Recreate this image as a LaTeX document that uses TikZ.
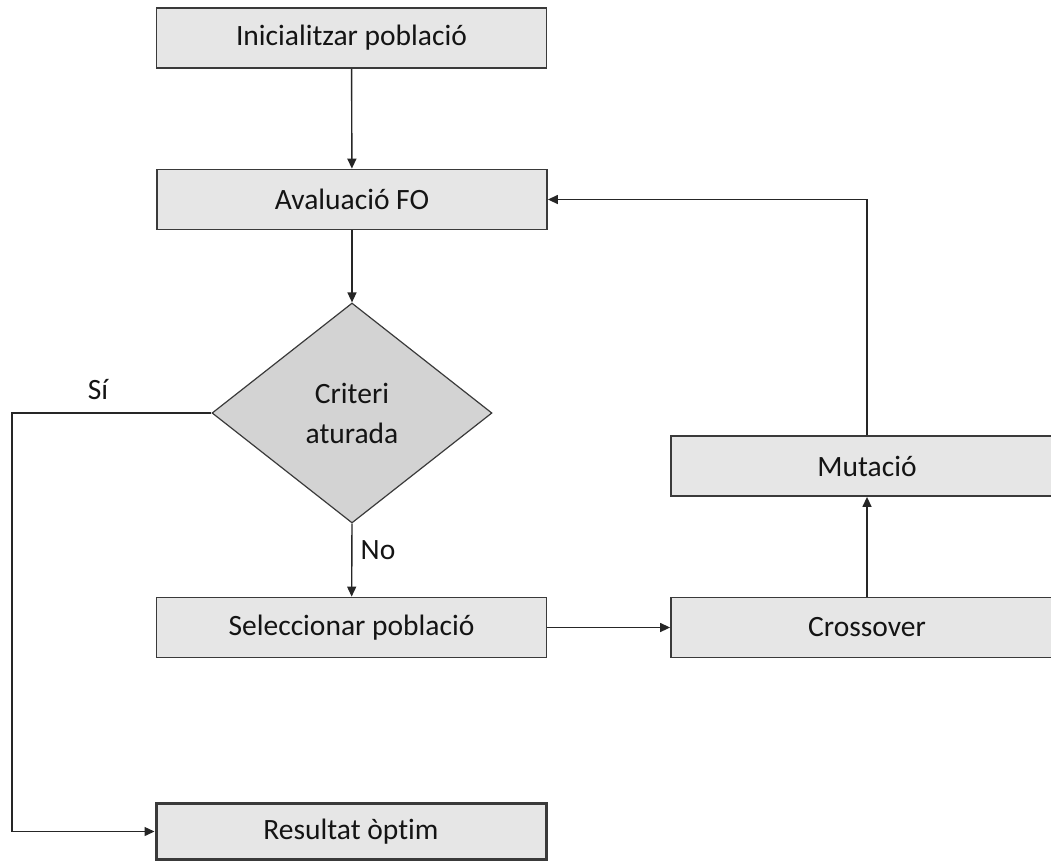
\documentclass[tikz,border=0pt]{standalone}
\usepackage{fontspec}
\setmainfont[Ligatures={NoCommon}]{Carlito}
\usetikzlibrary{shapes.geometric,arrows.meta}
\definecolor{boxfill}{HTML}{E6E6E6}
\definecolor{diafill}{HTML}{D3D3D3}
\definecolor{edge}{HTML}{3A3A3A}
\definecolor{txt}{HTML}{141414}
\begin{document}
\begin{tikzpicture}[x=1pt,y=-1pt,
  every node/.style={font=\fontsize{29.5}{40}\selectfont, text=txt},
  stepbox/.style={draw=edge, fill=boxfill, line width=1.8pt, rectangle, minimum width=390pt, minimum height=60pt, inner sep=0pt},
  decision/.style={draw=edge, fill=diafill, line width=1.2pt, diamond, minimum width=280pt, minimum height=220pt, inner sep=0pt, align=center},
  conn/.style={draw=black!85, line width=1.4pt, -{Triangle[length=10pt,width=9pt]}},
  lbl/.style={inner sep=0pt}]
\useasboundingbox (0,0) rectangle (1051,863);
\clip (0,0) rectangle (1051,863);
\node[stepbox] (init) at (351.5,38) {Inicialitzar població};
\node[stepbox] (aval) at (352,199.5) {Avaluació FO};
\node[decision] (crit) at (352,413) {Criteri\\aturada};
\node[stepbox] (sel) at (351.5,627.5) {Seleccionar població};
\node[stepbox, minimum width=392pt] (cross) at (867,627.5) {Crossover};
\node[stepbox, minimum width=392pt] (mut) at (867,466) {Mutació};
\node[stepbox, line width=3pt, minimum width=390pt, minimum height=56pt] (res) at (351,831.5) {Resultat òptim};
\coordinate (corner) at (12,413);
\node[lbl] (si) at (98,390) {Sí};
\node[lbl] (no) at (378,550) {No};
\draw[conn] (init) -- (aval);
\draw[conn] (aval) -- (crit.north);
\draw[conn] (crit.south) -- (sel);
\draw[conn] (sel) -- (cross);
\draw[conn] (cross) -- (mut);
\draw[conn] (mut.north) |- (aval.east);
\draw[conn] (crit.west) -- (corner) |- (res.west);
\end{tikzpicture}
\end{document}
